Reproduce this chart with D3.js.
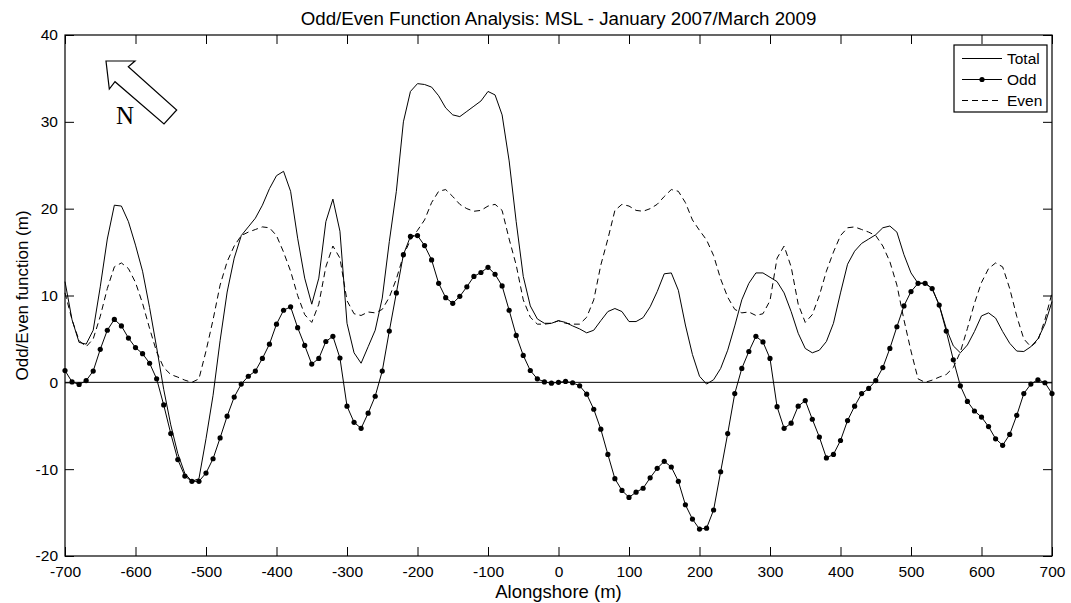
<!DOCTYPE html>
<html>
<head>
<meta charset="utf-8">
<script src="https://cdn.jsdelivr.net/npm/d3@7"></script>
<style>
  body { margin: 0; background: #fff; }
  svg text { font-family: "Liberation Sans", Arial, sans-serif; fill: #000; }
</style>
</head>
<body>
<svg id="chart" width="1071" height="603"></svg>
<script>
// alongshore positions, every 10 m
var alongshore = d3.range(-700, 701, 10);

var total = [
  11.6, 7.2, 4.6, 4.4, 6.0, 11.0, 16.5, 20.4, 20.3, 18.5,
  15.8, 12.8, 8.6, 4.0, -0.8, -4.9, -8.2, -10.5, -11.4, -11.1,
  -6.5, -1.5, 4.8, 10.4, 14.3, 16.9, 17.9, 18.9, 20.4, 22.3,
  23.8, 24.3, 22.0, 16.6, 12.0, 9.0, 12.0, 18.5, 21.1, 17.4,
  6.8, 3.4, 2.2, 4.1, 6.0, 9.7, 16.2, 22.0, 30.0, 33.5,
  34.4, 34.3, 34.0, 33.0, 31.6, 30.8, 30.6, 31.2, 31.8, 32.4,
  33.5, 33.1, 30.8, 25.5, 18.5, 12.2, 8.8, 7.3, 6.8, 6.8,
  7.1,
  6.9, 6.5, 6.15, 5.7, 6.0, 7.1, 8.15, 8.5, 8.15, 7.0,
  7.0, 7.45, 8.7, 10.45, 12.5, 12.6, 10.6, 6.6, 3.2, 0.7,
  -0.2, 0.3, 1.6, 3.7, 6.5, 9.5, 11.4, 12.6, 12.6, 12.1,
  11.6, 10.3, 8.15, 5.65, 3.9, 3.4, 3.7, 4.7, 6.8, 10.3,
  13.6, 15.1, 16.0, 16.5, 17.0, 17.8, 18.0, 17.3, 14.7, 12.6,
  11.4, 11.45, 10.8, 8.9, 6.2, 4.2, 3.4, 4.3, 5.85, 7.65,
  8.0, 7.4, 5.85, 4.5, 3.6, 3.55, 4.1, 5.0, 6.7, 9.3
];

var odd = [
  1.35, 0.05, -0.25, 0.2, 1.3, 3.8, 6.0, 7.25, 6.5, 5.1,
  4.0, 3.3, 2.2, 0.4, -2.6, -5.9, -8.9, -10.8, -11.4, -11.4,
  -10.45, -8.8, -6.4, -3.9, -1.7, -0.2, 0.7, 1.3, 2.75, 4.4,
  6.7, 8.3, 8.7, 6.3, 4.25, 2.1, 2.75, 4.7, 5.3, 2.8,
  -2.75, -4.6, -5.3, -3.55, -1.6, 1.3, 5.9, 10.3, 14.7, 16.8,
  16.9, 15.75, 14.1, 11.4, 9.75, 9.1, 9.9, 11.0, 12.2, 12.65,
  13.25, 12.45, 11.1, 8.3, 5.4, 3.1, 1.36, 0.4, 0.05, -0.1,
  0.0,
  0.1, -0.05, -0.4, -1.36, -3.1, -5.4, -8.3, -11.1, -12.45, -13.25,
  -12.65, -12.2, -11.0, -9.9, -9.1, -9.75, -11.4, -14.1, -15.75, -16.9,
  -16.8, -14.7, -10.3, -5.9, -1.3, 1.6, 3.55, 5.3, 4.65, 2.75,
  -2.8, -5.3, -4.7, -2.75, -2.1, -4.25, -6.3, -8.7, -8.3, -6.7,
  -4.4, -2.75, -1.3, -0.7, 0.2, 1.7, 3.9, 6.4, 8.8, 10.45,
  11.4, 11.4, 10.8, 8.9, 5.9, 2.6, -0.4, -2.2, -3.3, -4.0,
  -5.1, -6.5, -7.25, -6.0, -3.8, -1.3, -0.2, 0.3, -0.05, -1.3
];

var even = [
  10.3, 7.2, 4.8, 4.1, 5.0, 7.6, 10.8, 13.3, 13.75, 13.1,
  11.5, 9.1, 6.2, 3.5, 1.7, 0.9, 0.6, 0.25, 0.0, 0.4,
  3.6, 7.2, 11.2, 13.9, 15.7, 16.9, 17.3, 17.6, 17.9, 17.8,
  16.9, 15.0, 12.8, 10.0, 7.8, 6.9, 9.0, 13.3, 15.7, 14.3,
  9.4, 7.9, 7.7, 8.1, 8.0, 8.4, 9.8, 11.9, 14.6, 16.4,
  17.5, 18.7, 20.7, 22.0, 22.2, 21.4, 20.5, 20.0, 19.7, 19.8,
  20.3, 20.5, 19.8, 16.5, 13.5, 9.5, 7.5, 6.7, 6.7, 6.8,
  7.1,
  6.8, 6.7, 6.7, 7.5, 9.5, 13.5, 16.5, 19.8, 20.5, 20.3,
  19.8, 19.7, 20.0, 20.5, 21.4, 22.2, 22.0, 20.7, 18.7, 17.5,
  16.4, 14.6, 11.9, 9.8, 8.4, 8.0, 8.1, 7.7, 7.9, 9.4,
  14.3, 15.7, 13.3, 9.0, 6.9, 7.8, 10.0, 12.8, 15.0, 16.9,
  17.8, 17.9, 17.6, 17.3, 16.9, 15.7, 13.9, 11.2, 7.2, 3.6,
  0.4, 0.0, 0.25, 0.6, 0.9, 1.7, 3.5, 6.2, 9.1, 11.5,
  13.1, 13.75, 13.3, 10.8, 7.6, 5.0, 4.1, 4.8, 7.2, 10.3
];

var xTicks = d3.range(-700, 701, 100);
var yTicks = [-20, -10, 0, 10, 20, 30, 40];
var seriesNames = ['Total', 'Odd', 'Even'];

var svg = d3.select('#chart');
var plotLeft = 65, plotRight = 1052, plotTop = 35, plotBottom = 556;

var x = d3.scaleLinear().domain([-700, 700]).range([plotLeft, plotRight]);
var y = d3.scaleLinear().domain([-20, 40]).range([plotBottom, plotTop]);

var tickLen = 9;
// plain hyphen for negatives, like the original
var fmt = function(d) { return String(d); };

// axes, MATLAB style: ticks inside on all four sides
function styleAxis(g) {
  g.select('.domain').remove();
  g.selectAll('line').attr('stroke', '#000').attr('stroke-width', 1);
  g.selectAll('text').style('font-size', '15.5px');
}

svg.append('g')
  .attr('transform', 'translate(0,' + plotBottom + ')')
  .call(d3.axisBottom(x).tickValues(xTicks).tickSize(-tickLen).tickPadding(5).tickFormat(fmt))
  .call(styleAxis)
  .selectAll('text').attr('y', 6).attr('dy', '0.95em');

svg.append('g')
  .attr('transform', 'translate(0,' + plotTop + ')')
  .call(d3.axisTop(x).tickValues(xTicks).tickSize(-tickLen).tickFormat(''))
  .call(styleAxis);

svg.append('g')
  .attr('transform', 'translate(' + plotLeft + ',0)')
  .call(d3.axisLeft(y).tickValues(yTicks).tickSize(-tickLen).tickFormat(fmt))
  .call(styleAxis)
  .selectAll('text').attr('x', -7);

svg.append('g')
  .attr('transform', 'translate(' + plotRight + ',0)')
  .call(d3.axisRight(y).tickValues(yTicks).tickSize(-tickLen).tickFormat(''))
  .call(styleAxis);

svg.append('rect')
  .attr('x', plotLeft).attr('y', plotTop)
  .attr('width', plotRight - plotLeft).attr('height', plotBottom - plotTop)
  .attr('fill', 'none').attr('stroke', '#000').attr('stroke-width', 1.2);

// zero line
svg.append('line')
  .attr('x1', x(-700)).attr('x2', x(700))
  .attr('y1', y(0)).attr('y2', y(0))
  .attr('stroke', '#000').attr('stroke-width', 1);

function lineFor(vals) {
  return d3.line()
    .x(function(d, i) { return x(alongshore[i]); })
    .y(function(d) { return y(d); })(vals);
}

svg.append('path')
  .attr('d', lineFor(total))
  .attr('fill', 'none').attr('stroke', '#000').attr('stroke-width', 1);

svg.append('path')
  .attr('d', lineFor(even))
  .attr('fill', 'none').attr('stroke', '#000').attr('stroke-width', 1)
  .attr('stroke-dasharray', '6,4');

svg.append('path')
  .attr('d', lineFor(odd))
  .attr('fill', 'none').attr('stroke', '#000').attr('stroke-width', 1);

svg.append('g').selectAll('circle')
  .data(odd)
  .enter().append('circle')
    .attr('cx', function(d, i) { return x(alongshore[i]); })
    .attr('cy', function(d) { return y(d); })
    .attr('r', 2.6)
    .attr('fill', '#000');

// titles
svg.append('text')
  .attr('x', (plotLeft + plotRight) / 2).attr('y', 25)
  .attr('text-anchor', 'middle')
  .style('font-size', '18.7px')
  .text('Odd/Even Function Analysis: MSL - January 2007/March 2009');

svg.append('text')
  .attr('x', (plotLeft + plotRight) / 2).attr('y', 598)
  .attr('text-anchor', 'middle')
  .style('font-size', '18.5px')
  .text('Alongshore (m)');

svg.append('text')
  .attr('transform', 'translate(28,' + ((plotTop + plotBottom) / 2) + ') rotate(-90)')
  .attr('text-anchor', 'middle')
  .style('font-size', '17px')
  .text('Odd/Even function (m)');

// legend
var lg = svg.append('g').attr('transform', 'translate(954,45)');
lg.append('rect')
  .attr('width', 93).attr('height', 67)
  .attr('fill', '#fff').attr('stroke', '#000').attr('stroke-width', 1.2);

seriesNames.forEach(function(name, i) {
  var ly = 13.5 + i * 21;
  var l = lg.append('line')
    .attr('x1', 8).attr('x2', 48)
    .attr('y1', ly).attr('y2', ly)
    .attr('stroke', '#000').attr('stroke-width', 1);
  if (name === 'Even') l.attr('stroke-dasharray', '6,4');
  if (name === 'Odd') {
    lg.append('circle').attr('cx', 28).attr('cy', ly).attr('r', 2.6).attr('fill', '#000');
  }
  lg.append('text')
    .attr('x', 53).attr('y', ly).attr('dy', '0.35em')
    .style('font-size', '15.5px')
    .text(name);
});

// north arrow
var arrow = [[106, 61], [135, 61], [128.3, 66.7], [176.7, 110], [164, 124], [115, 81.7], [109.3, 89]];
svg.append('polygon')
  .attr('points', arrow.map(function(p) { return p.join(','); }).join(' '))
  .attr('fill', '#fff').attr('stroke', '#000').attr('stroke-width', 1.2);

svg.append('text')
  .attr('x', 125).attr('y', 124)
  .attr('text-anchor', 'middle')
  .style('font-family', '"Liberation Serif", "Times New Roman", serif')
  .style('font-size', '25px')
  .text('N');
</script>
</body>
</html>
